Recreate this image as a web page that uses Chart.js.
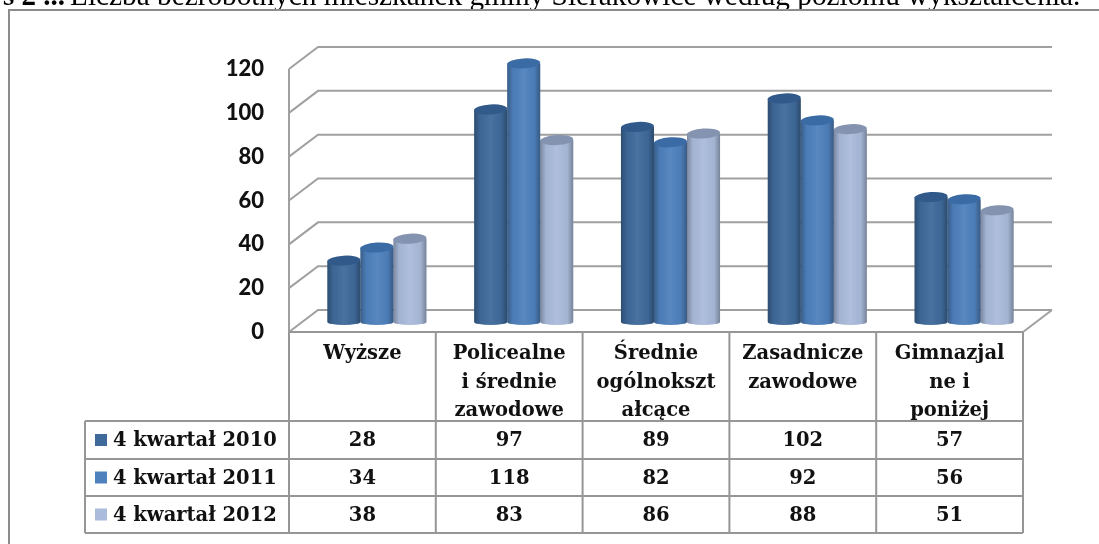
<!DOCTYPE html>
<html><head><meta charset="utf-8">
<style>html,body{margin:0;padding:0;background:#fff;overflow:hidden}#w{position:absolute;left:0;top:0;width:1099px;height:544px}canvas{filter:blur(.35px)}</style>
<script src="https://cdn.jsdelivr.net/npm/chart.js@4/dist/chart.umd.min.js"></script>
</head><body><div id="w"><canvas id="c" width="1099" height="544"></canvas></div>
<script>
const categories=[["Wyższe"],["Policealne","i średnie","zawodowe"],["Średnie","ogólnokszt","ałcące"],["Zasadnicze","zawodowe"],["Gimnazjal","ne i","poniżej"]];
const seriesNames=["4 kwartał 2010","4 kwartał 2011","4 kwartał 2012"];
const series2010=[28,97,89,102,57];
const series2011=[34,118,82,92,56];
const series2012=[38,83,86,88,51];
const seriesColors=["#3f6a9b","#4f81bd","#aabbdb"];
const capColors=["#31598a","#3a6ba5","#8494b0"];
const yTicks=[0,20,40,60,80,100,120];
const titleBold="s 2 ...";
const titleText="Liczba bezrobotnych mieszkanek gminy Sierakowice według poziomu wykształcenia.";
const allSeries=[series2010,series2011,series2012];
const GRID="#a0a0a0", DX=29, DY=22, BX=14.5, BY=10, RY=5, RB=3;
const rowLines=[421,459,496,533], tableLeft=85;
const tableFont='bold 19.5px "DejaVu Serif"';

const ticks3d={id:'ticks3d',
 beforeDraw(ch){const c=ch.ctx,a=ch.chartArea,y=ch.scales.y;c.save();
  c.fillStyle='#000';c.textAlign='left';c.textBaseline='alphabetic';
  c.font='bold 29px "Liberation Serif"';c.fillText(titleBold,3,5);
  c.font='29.3px "Liberation Serif"';c.fillText(titleText,70,5);
  c.strokeStyle='#8c8c8c';c.lineWidth=2;c.beginPath();c.moveTo(9,544);c.lineTo(9,10);c.lineTo(1099,10);c.stroke();
  c.strokeStyle=GRID;c.lineWidth=2;
  yTicks.forEach(t=>{const p=y.getPixelForValue(t);c.beginPath();c.moveTo(a.left,p);c.lineTo(a.left+DX,p-DY);c.lineTo(a.right+DX,p-DY);c.stroke();});
  const p0=y.getPixelForValue(0);
  c.beginPath();c.moveTo(a.right,p0);c.lineTo(a.right+DX,p0-DY);c.stroke();
  c.beginPath();c.moveTo(a.left,p0);c.lineTo(a.left,a.top);c.stroke();
  c.restore();},
 beforeDatasetsDraw(ch){const c=ch.ctx;c.save();c.translate(BX,-BY);},
 afterDatasetsDraw(ch){const c=ch.ctx;
  ch.data.datasets.forEach((d,i)=>{ch.getDatasetMeta(i).data.forEach(b=>{
    const L=b.x-b.width/2,R=b.x+b.width/2;
    c.fillStyle=seriesColors[i];c.beginPath();c.ellipse(b.x,b.base,b.width/2,RB,0,0,Math.PI);c.fill();
    const g=c.createLinearGradient(L,0,R,0);
    g.addColorStop(0,'rgba(0,0,0,.28)');g.addColorStop(.18,'rgba(0,0,0,.04)');g.addColorStop(.5,'rgba(255,255,255,.06)');g.addColorStop(.82,'rgba(0,0,0,.04)');g.addColorStop(1,'rgba(0,0,0,.3)');
    c.fillStyle=g;c.beginPath();c.moveTo(L,b.y);c.lineTo(L,b.base);c.ellipse(b.x,b.base,b.width/2,RB,0,Math.PI,0,true);c.lineTo(R,b.y);c.closePath();c.fill();
    c.fillStyle=capColors[i];c.beginPath();c.ellipse(b.x,b.y,b.width/2,RY,-0.06,0,Math.PI*2);c.fill();
  });});
  c.restore();},
 afterDraw(ch){const c=ch.ctx,a=ch.chartArea,x=ch.scales.x;c.save();
  const n=categories.length,cw=(a.right-a.left)/n;
  c.fillStyle='#111';c.font=tableFont;c.textAlign='center';c.textBaseline='middle';
  categories.forEach((lines,i)=>{const X=x.getPixelForValue(i);lines.forEach((t,j)=>{c.fillText(t,X,354+j*28.5);});});
  allSeries.forEach((vals,r)=>{const Y=(rowLines[r]+rowLines[r+1])/2+1;
    vals.forEach((v,i)=>c.fillText(String(v),x.getPixelForValue(i),Y));
    c.textAlign='left';c.fillText(seriesNames[r],113,Y);c.textAlign='center';
    c.fillStyle=seriesColors[r];c.fillRect(95,Y-7,12,12);c.fillStyle='#111';});
  c.fillStyle='#fff';c.fillRect(a.left+1,rowLines[0]-1,a.right-a.left-2,2);
  c.strokeStyle='#969696';c.lineWidth=2;
  c.beginPath();c.moveTo(a.left,a.bottom);c.lineTo(a.right,a.bottom);
  rowLines.forEach(r=>{c.moveTo(tableLeft,r);c.lineTo(a.right,r);});
  c.moveTo(tableLeft,rowLines[0]);c.lineTo(tableLeft,rowLines[3]);
  for(let i=0;i<=n;i++){const X=a.left+i*cw;c.moveTo(X,a.bottom);c.lineTo(X,rowLines[3]);}
  c.stroke();
  c.restore();}
};
new Chart(document.getElementById('c'),{type:'bar',
 data:{labels:categories,datasets:allSeries.map((v,i)=>({label:seriesNames[i],data:v,backgroundColor:seriesColors[i],clip:false,borderWidth:0,barPercentage:1,categoryPercentage:.675}))},
 options:{responsive:false,animation:false,devicePixelRatio:1,
  layout:{padding:{left:19,top:69,right:76,bottom:204}},
  plugins:{legend:{display:false},tooltip:{enabled:false},title:{display:false}},
  scales:{
   x:{grid:{display:false},border:{display:false},ticks:{display:false}},
   y:{min:0,max:120,afterFit(s){s.width=270;},grid:{display:false},border:{display:false},
      ticks:{stepSize:20,color:'#111',padding:17,font:{family:'Lato',weight:900,size:22}}}
  }},
 plugins:[ticks3d]});
</script></body></html>
